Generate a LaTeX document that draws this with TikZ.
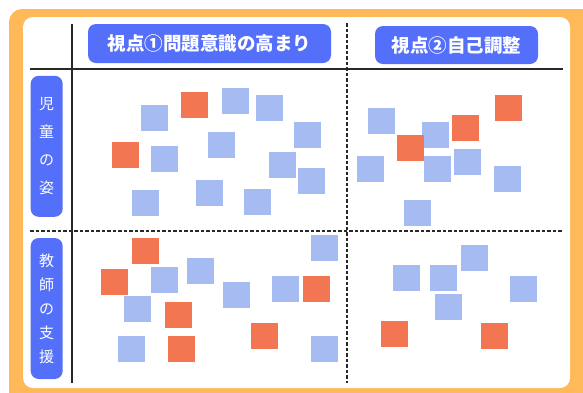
\documentclass[tikz,border=0pt]{standalone}
\usepackage{fontspec}
\newfontfamily\jp{Noto Sans CJK JP}
\definecolor{frameor}{RGB}{255,185,88}
\definecolor{hdrblue}{RGB}{84,112,250}
\definecolor{sqblue}{RGB}{165,187,241}
\definecolor{sqor}{RGB}{242,118,82}
\definecolor{linegray}{RGB}{40,40,40}
\tikzset{
  bsq/.style={fill=sqblue, draw=none, minimum width=27pt, minimum height=26pt, inner sep=0pt, anchor=north west},
  osq/.style={fill=sqor, draw=none, minimum width=27pt, minimum height=26pt, inner sep=0pt, anchor=north west},
  hdr/.style={fill=hdrblue, rounded corners=8pt, text=white, font=\jp\bfseries\fontsize{18.5}{20}\selectfont, inner sep=0pt},
  rowlab/.style={fill=hdrblue, rounded corners=8pt, text=white, align=center, inner sep=0pt, minimum width=32pt, minimum height=141pt},
  solidline/.style={draw=linegray, line width=1.3pt},
  dashline/.style={draw=linegray, line width=1.2pt, dash pattern=on 3.5pt off 2pt},
}
\begin{document}
\begin{tikzpicture}[x=1pt,y=-1pt]
\useasboundingbox (0,0) rectangle (583,392);
\begin{scope}
\clip (0,0) rectangle (583,392);
\fill[frameor, rounded corners=13pt] (9,9) rectangle (600,405);
\fill[white, rounded corners=10pt] (23,17) rectangle (570,388);
\end{scope}
% grid lines
\coordinate (vt) at (72,24); \coordinate (vb) at (72,383);
\coordinate (hl) at (30,69); \coordinate (hr) at (563,69);
\coordinate (dvt) at (347,23); \coordinate (dvb) at (347,383);
\coordinate (dhl) at (30,231); \coordinate (dhr) at (563,231);
\draw[solidline] (vt) -- (vb);
\draw[solidline] (hl) -- (hr);
\draw[dashline] (dvt) -- (dvb);
\draw[dashline] (dhl) -- (dhr);
% headers
\node[hdr, minimum width=243pt, minimum height=39pt] (h1) at (209.5,43.5) {視点①問題意識の高まり};
\node[hdr, minimum width=163pt, minimum height=38pt] (h2) at (456.5,45) {視点②自己調整};
% row labels
\node[rowlab, font=\jp\fontsize{15}{28}\selectfont] (r1) at (46.7,146.3) {児\\童\\の\\姿};
\node[rowlab, font=\jp\fontsize{15}{24}\selectfont] (r2) at (46.7,308.5) {教\\師\\の\\支\\援};
% quadrant 1
\node[bsq] (a1) at (140.3,104.7) {};
\node[osq] (a2) at (180.7,91.3) {};
\node[bsq] (a3) at (221.7,87.3) {};
\node[bsq] (a4) at (255.7,94.3) {};
\node[bsq] (a5) at (293.7,121.3) {};
\node[osq] (a6) at (111.7,141.3) {};
\node[bsq] (a7) at (151,145.3) {};
\node[bsq] (a8) at (207.7,131.3) {};
\node[bsq] (a9) at (269,151.7) {};
\node[bsq] (a10) at (297.7,167.3) {};
\node[bsq] (a11) at (131.7,189.3) {};
\node[bsq] (a12) at (195.3,179.7) {};
\node[bsq] (a13) at (244,189) {};
% quadrant 2
\node[bsq] (b1) at (367.3,108) {};
\node[osq] (b2) at (494.7,94.3) {};
\node[bsq] (b3) at (421.7,121.3) {};
\node[osq] (b4) at (451.7,114.3) {};
\node[osq] (b5) at (396.3,135) {};
\node[bsq] (b6) at (356.7,155.3) {};
\node[bsq] (b7) at (423.3,155.3) {};
\node[bsq] (b8) at (454,148.7) {};
\node[bsq] (b9) at (494,165.3) {};
\node[bsq] (b10) at (403.3,199.7) {};
% quadrant 3
\node[osq] (c1) at (132,238) {};
\node[bsq] (c2) at (310.8,234.3) {};
\node[osq] (c3) at (101.1,268.3) {};
\node[bsq] (c4) at (151,266.7) {};
\node[bsq] (c5) at (186.6,257.7) {};
\node[bsq] (c6) at (222.7,281.7) {};
\node[bsq] (c7) at (271.4,275.3) {};
\node[osq] (c8) at (302.3,275.3) {};
\node[bsq] (c9) at (123.8,295.3) {};
\node[osq] (c10) at (164.7,302) {};
\node[osq] (c11) at (250.6,322.3) {};
\node[bsq] (c12) at (118.2,336) {};
\node[osq] (c13) at (167.7,336) {};
\node[bsq] (c14) at (310.8,336) {};
% quadrant 4
\node[bsq] (d1) at (460.3,244.3) {};
\node[bsq] (d2) at (392.3,264.3) {};
\node[bsq] (d3) at (430.2,264.3) {};
\node[bsq] (d4) at (510.1,275.3) {};
\node[bsq] (d5) at (435,294) {};
\node[osq] (d6) at (380.7,320.7) {};
\node[osq] (d7) at (481.1,322.3) {};
\end{tikzpicture}
\end{document}
